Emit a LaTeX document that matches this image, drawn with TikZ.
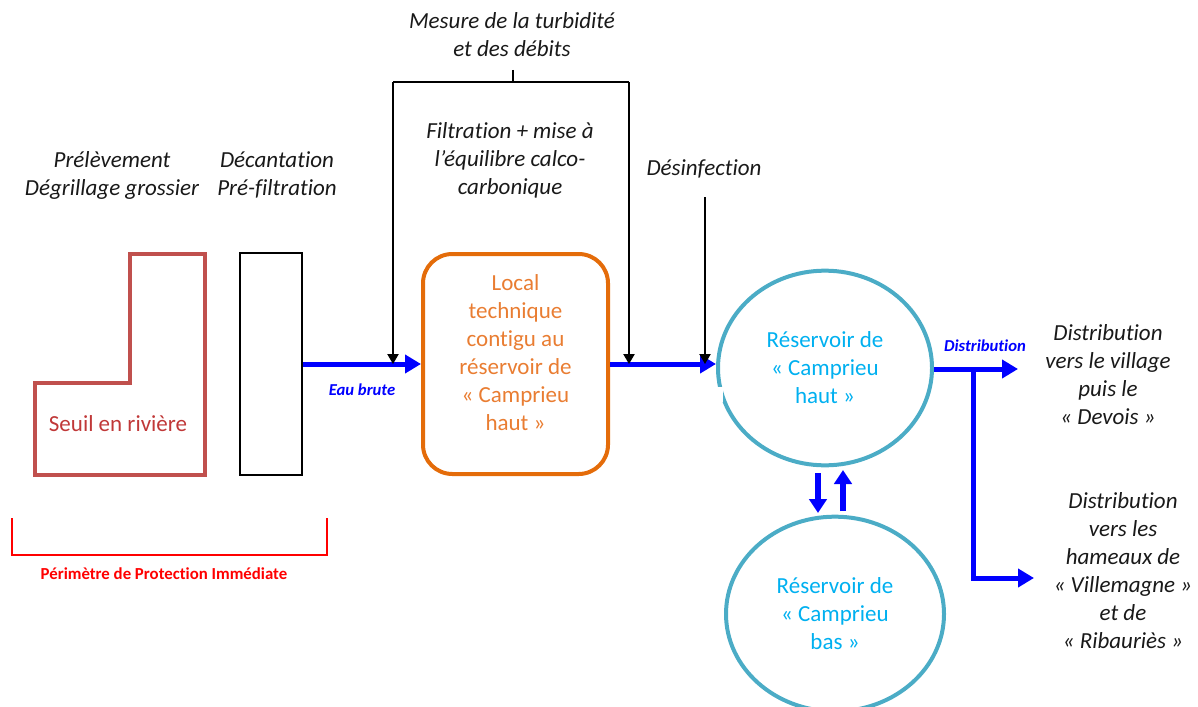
\documentclass[tikz,border=0pt]{standalone}
\usepackage{fontspec}
\setmainfont{Carlito}[Ligatures=NoCommon]
\usetikzlibrary{arrows.meta,shapes.geometric}
\definecolor{seuilred}{RGB}{192,80,77}
\definecolor{seuiltxt}{RGB}{192,56,56}
\definecolor{ppired}{RGB}{255,0,0}
\definecolor{flowblue}{RGB}{0,0,255}
\definecolor{orangebox}{RGB}{228,108,10}
\definecolor{orangetxt}{RGB}{233,125,50}
\definecolor{tealline}{RGB}{75,172,198}
\definecolor{cyantxt}{RGB}{0,176,240}
\definecolor{txtgray}{RGB}{25,25,25}
\begin{document}
\begin{tikzpicture}[x=0.75pt,y=-0.75pt,
  txt/.style={font=\fontsize{17.25}{21}\selectfont\itshape, align=center, inner sep=0pt, text=txtgray},
  plain/.style={font=\fontsize{17.25}{21}\selectfont, align=center, inner sep=0pt},
  small/.style={font=\fontsize{12.5}{14}\selectfont\bfseries\itshape, inner sep=0pt, text=flowblue},
  flow/.style={draw=flowblue, line width=3.75pt, line join=miter, -{Triangle[length=12pt,width=13.5pt]}},
  flowv/.style={draw=flowblue, line width=4pt, -{Triangle[length=10.5pt,width=13pt]}},
  sig/.style={draw=black, line width=0.9pt, -{Triangle[length=7.5pt,width=8.5pt]}},
  tank/.style={ellipse, draw=tealline, line width=3pt, inner sep=0pt, text=cyantxt,
    font=\fontsize{17.25}{21}\selectfont, align=center}
]
\useasboundingbox (0,0) rectangle (1198,706);

% upper labels
\node[txt] (prel) at (112,175) {Prélèvement\\Dégrillage grossier};
\node[txt] (decant) at (277,175) {Décantation\\Pré-filtration};
\node[txt] (mesure) at (512,35) {Mesure de la turbidité\\et des débits};
\node[txt] (filt) at (510,160) {Filtration + mise à\\l’équilibre calco-\\carbonique};
\node[txt] (desinf) at (704,169) {Désinfection};

% seuil
\draw[draw=seuilred, line width=3pt, line join=miter]
  (35,383) -- (130,383) -- (130,254) -- (205,254) -- (205,475) -- (35,475) -- cycle;
\node[plain, text=seuiltxt] (seuil) at (118,424) {Seuil en rivière};

% pre-filtration box
\node[draw=black, line width=1.1pt, minimum width=46.5pt, minimum height=166.5pt, inner sep=0pt] (pre) at (271,364) {};

% bracket
\draw[draw=ppired, line width=1.9pt] (12,518) -- (12,555) -- (327,555) -- (327,518);
\node[font=\fontsize{12.6}{14}\selectfont\bfseries, text=ppired, inner sep=0pt] (ppi) at (164,574) {Périmètre de Protection Immédiate};

% local technique
\node[draw=orangebox, line width=3pt, rounded corners=22pt, minimum width=138.75pt, minimum height=165pt, inner sep=0pt] (local) at (515.5,364) {};
\node[plain, text=orangetxt] (localtxt) at (515.5,353) {Local\\technique\\contigu au\\réservoir de\\«~Camprieu\\haut~»};

% reservoirs
\node[tank, minimum width=160.5pt, minimum height=146pt] (haut) at (825,368) {Réservoir de\\«~Camprieu\\haut~»};
\fill[white] (714,387) rectangle (723,402);
\node[tank, minimum width=163.5pt, minimum height=146pt] (bas) at (835,614) {Réservoir de\\«~Camprieu\\bas~»};

% flows
\draw[flow] (pre.east) -- (pre.east -| local.west);
\node[small] (eau) at (362,390) {Eau brute};
\draw[flow] (local.east) -- (local.east -| haut.west);

\coordinate (mtop) at (513,70);
\coordinate (mbar) at (513,82);
\coordinate (mL) at (393,82);
\coordinate (mR) at (629,82);
\draw[line width=0.9pt] (mtop) -- (mbar);
\draw[line width=0.9pt] (mL) -- (mR);
\draw[sig] (mL) -- (mL |- pre.east);
\draw[sig] (mR) -- (mR |- local.east);
\coordinate (dtop) at (705,197);
\draw[sig] (dtop) -- (dtop |- local.east);

\coordinate (dn1) at (818,473);
\coordinate (dn2) at (818,513);
\coordinate (up1) at (843,511);
\coordinate (up2) at (843,470);
\draw[flowv] (dn1) -- (dn2);
\draw[flowv] (up1) -- (up2);

\coordinate (d1end) at (1018,369);
\coordinate (branch) at (973,369);
\coordinate (d2end) at (1034,578);
\draw[flow] (haut.east |- d1end) -- (d1end);
\draw[flow] (branch) |- (d2end);
\node[small] (distlbl) at (985,346) {Distribution};

\node[txt] (dist1) at (1108,375) {Distribution\\vers le village\\puis le\\«~Devois~»};
\node[txt] (dist2) at (1123,571) {Distribution\\vers les\\hameaux de\\«~Villemagne~»\\et de\\«~Ribauriès~»};
\end{tikzpicture}
\end{document}
